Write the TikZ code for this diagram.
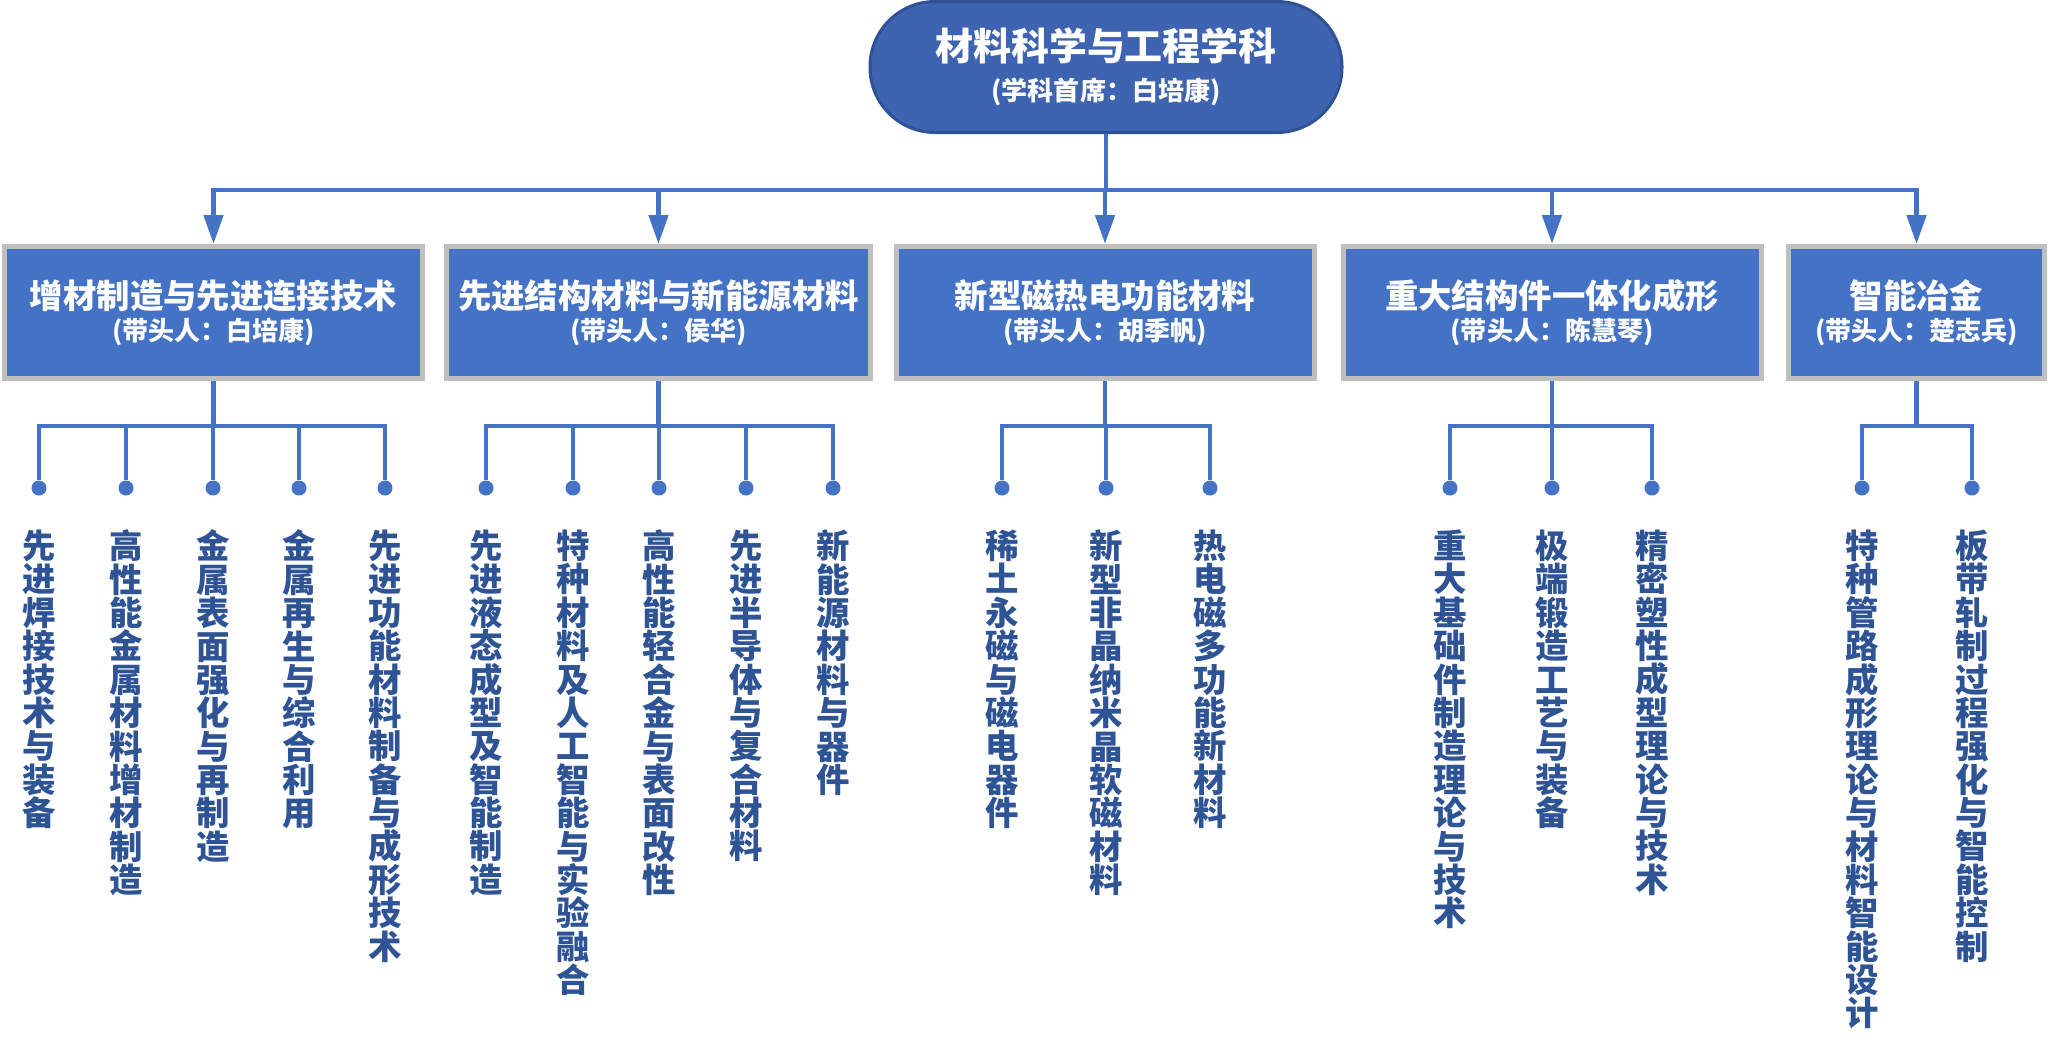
\documentclass[tikz,border=0pt]{standalone}
\usepackage{fontspec}
\usepackage{xcolor}
\usepackage{tikz}
\usetikzlibrary{arrows.meta,positioning}
\newfontfamily\cjk{Noto Sans CJK SC}
\XeTeXlinebreaklocale "zh"
\XeTeXlinebreakskip=0pt plus 1pt
\setlength{\lineskiplimit}{-10pt}
\definecolor{root-blue}{RGB}{62,99,176}
\definecolor{root-edge}{RGB}{47,82,150}
\definecolor{box-blue}{RGB}{68,114,196}
\definecolor{box-edge}{RGB}{191,191,191}
\definecolor{leaf-blue}{RGB}{47,84,150}
\tikzset{>={Triangle[width=1.9mm,length=2.9mm]}}

\begin{document}
\begin{tikzpicture}[x=0.1mm,y=-0.1mm,
    link/.style={box-blue, line width=0.47mm},
    branch/.style={fill=box-blue, draw=box-edge, line width=0.5mm, minimum height=13.2mm,
        align=center, text=white, font=\cjk\bfseries\fontsize{7.4}{9.1}\selectfont},
    leaf/.style={text=leaf-blue, text width=3.6mm, align=center, inner sep=0pt,
        font=\cjk\bfseries\fontsize{9.5}{9.5}\selectfont},
    dot/.style={circle, fill=box-blue, inner sep=0pt, minimum size=1.5mm}]
    \useasboundingbox (0,0) rectangle (2048,1052);

    \node[fill=root-blue, draw=root-edge, line width=0.3mm, rounded corners=6.5mm,
        minimum width=47.2mm, minimum height=13.1mm, align=center, text=white,
        font=\cjk\bfseries\fontsize{7.4}{11.4}\selectfont] (root) at (1106,67)
        {{\fontsize{10.8}{11.4}\selectfont 材料科学与工程学科}\\(学科首席：白培康)};

    \node[branch, minimum width=41.8mm] (B1) at (213.5,312.5)
        {{\fontsize{9.5}{9.1}\selectfont 增材制造与先进连接技术}\\(带头人：白培康)};
    \node[branch, minimum width=41.8mm] (B2) at (658.5,312.5)
        {{\fontsize{9.5}{9.1}\selectfont 先进结构材料与新能源材料}\\(带头人：侯华)};
    \node[branch, minimum width=41.8mm] (B3) at (1105,312.5)
        {{\fontsize{9.5}{9.1}\selectfont 新型磁热电功能材料}\\(带头人：胡季帆)};
    \node[branch, minimum width=41.8mm] (B4) at (1552,312.5)
        {{\fontsize{9.5}{9.1}\selectfont 重大结构件一体化成形}\\(带头人：陈慧琴)};
    \node[branch, minimum width=25.6mm] (B5) at (1916.5,312.5)
        {{\fontsize{9.5}{9.1}\selectfont 智能冶金}\\(带头人：楚志兵)};

    \draw [link] (root.south) -- ++(0,56) coordinate (top);
    \foreach \b in {B1,B2,B3,B4,B5}
        \draw [link,->] (top) -| (\b.north);

    \foreach \b/\g in {B1/1,B2/2,B3/3,B4/4,B5/5}
        \draw [link] (\b.south) -- ++(0,45) coordinate (S\g);

    \foreach \x/\g/\n/\txt in {
        39/1/11/先进焊接技术与装备, 126/1/12/高性能金属材料增材制造,
        213/1/13/金属表面强化与再制造, 299/1/14/金属再生与综合利用,
        385/1/15/先进功能材料制备与成形技术,
        486/2/21/先进液态成型及智能制造, 573/2/22/特种材料及人工智能与实验融合,
        659/2/23/高性能轻合金与表面改性, 746/2/24/先进半导体与复合材料,
        833/2/25/新能源材料与器件,
        1002/3/31/稀土永磁与磁电器件, 1106/3/32/新型非晶纳米晶软磁材料,
        1210/3/33/热电磁多功能新材料,
        1450/4/41/重大基础件制造理论与技术, 1552/4/42/极端锻造工艺与装备,
        1652/4/43/精密塑性成型理论与技术,
        1862/5/51/特种管路成形理论与材料智能设计, 1972/5/52/板带轧制过程强化与智能控制}
    {
        \node[dot] (D\n) at (\x,488) {};
        \node[leaf, below=3.3mm of D\n] (L\n) {\txt};
        \draw [link] (S\g) -| (D\n);
    }
\end{tikzpicture}
\end{document}
